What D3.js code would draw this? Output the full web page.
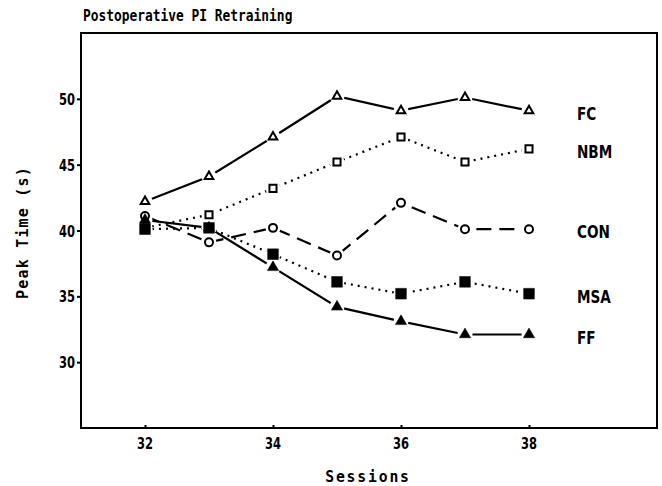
<!DOCTYPE html>
<html>
<head>
<meta charset="utf-8">
<script src="https://cdn.jsdelivr.net/npm/d3@7"></script>
<style>
body { margin: 0; background: #fff; }
text { fill: #000; }
</style>
</head>
<body>
<div id="chart"></div>
<script>
// values
const sessions = [32, 33, 34, 35, 36, 37, 38];
const fcData  = [42.2, 44.1, 47.1, 50.2, 49.1, 50.1, 49.1];
const nbmData = [40.2, 41.2, 43.2, 45.2, 47.1, 45.2, 46.2];
const conData = [41.1, 39.1, 40.2, 38.1, 42.1, 40.1, 40.1];
const msaData = [40.1, 40.2, 38.2, 36.1, 35.2, 36.1, 35.2];
const ffData  = [40.8, 40.2, 37.2, 34.2, 33.1, 32.1, 32.1];
const xTicks = [32, 34, 36, 38];
const yTicks = [30, 35, 40, 45, 50];

const groups = [
  {name: "FC",  values: fcData,  shape: d3.symbolTriangle, size: 32, filled: false, dash: null},
  {name: "NBM", values: nbmData, shape: d3.symbolSquare,   size: 50, filled: false, dash: "2,5"},
  {name: "CON", values: conData, shape: d3.symbolCircle,   size: 50, filled: false, dash: "15,8"},
  {name: "MSA", values: msaData, shape: d3.symbolSquare,   size: 115, filled: true, dash: "2,5"},
  {name: "FF",  values: ffData,  shape: d3.symbolTriangle, size: 55, filled: true,  dash: null}
];

const width = 662, height = 486;
const margin = {top: 33, right: 5, bottom: 58, left: 81};

const svg = d3.select("#chart")
  .append("svg")
  .attr("width", width)
  .attr("height", height);

const x = d3.scaleLinear().domain([31, 40]).range([margin.left, width - margin.right]);
const y = d3.scaleLinear().domain([25, 55]).range([height - margin.bottom, margin.top]);

const mono = "'DejaVu Sans Mono', monospace";
const sans = "'DejaVu Sans', sans-serif";

// squeezed text, the old plotter font is tall and narrow
function label(px, py, str, opts) {
  return svg.append("text")
    .attr("transform", `translate(${px},${py}) rotate(${opts.rot || 0}) scale(${opts.sx},1)`)
    .attr("text-anchor", opts.anchor || "start")
    .style("font-family", opts.font)
    .style("font-weight", "bold")
    .style("font-size", opts.size + "px")
    .style("letter-spacing", (opts.ls || 0) + "px")
    .text(str);
}

// frame
svg.append("rect")
  .attr("x", margin.left).attr("y", margin.top)
  .attr("width", width - margin.left - margin.right)
  .attr("height", height - margin.top - margin.bottom)
  .attr("fill", "none").attr("stroke", "#000").attr("stroke-width", 2);

// axes
const xAxis = svg.append("g")
  .attr("transform", `translate(0,${height - margin.bottom})`)
  .call(d3.axisTop(x).tickValues(xTicks).tickSize(3).tickFormat(""));
xAxis.select(".domain").remove();
xAxis.selectAll("line").attr("stroke-width", 2);

const yAxis = svg.append("g")
  .attr("transform", `translate(${margin.left},0)`)
  .call(d3.axisLeft(y).tickValues(yTicks).tickSize(4).tickFormat(""));
yAxis.select(".domain").remove();
yAxis.selectAll("line").attr("stroke-width", 2);

xTicks.forEach(t => label(x(t), height - margin.bottom + 21, t, {font: sans, size: 16, sx: 0.72, anchor: "middle"}));
yTicks.forEach(t => label(margin.left - 6, y(t) + 6, t, {font: sans, size: 16, sx: 0.72, anchor: "end"}));

// titles
label(83, 21, "Postoperative PI Retraining", {font: mono, size: 15, sx: 0.86});
label(28, (margin.top + height - margin.bottom) / 2 + 2, "Peak Time (s)",
  {font: mono, size: 15, sx: 1, rot: -90, anchor: "middle", ls: 1.2});
label(368, 482, "Sessions", {font: mono, size: 16, sx: 0.92, anchor: "middle", ls: 2});

// lines
const line = d3.line()
  .x((d, i) => x(sessions[i]))
  .y(d => y(d));

svg.selectAll(".series")
  .data(groups)
  .enter()
  .append("path")
  .attr("class", "series")
  .attr("d", d => line(d.values))
  .attr("fill", "none")
  .attr("stroke", "#000")
  .attr("stroke-width", 2.2)
  .attr("stroke-dasharray", d => d.dash);

// white gaps round the markers, then the markers
groups.forEach(g => {
  svg.selectAll(null)
    .data(g.values)
    .enter()
    .append("circle")
    .attr("cx", (d, i) => x(sessions[i]))
    .attr("cy", d => y(d))
    .attr("r", 7.5)
    .attr("fill", "#fff");
});

groups.forEach(g => {
  svg.selectAll(null)
    .data(g.values)
    .enter()
    .append("path")
    .attr("transform", (d, i) => `translate(${x(sessions[i])},${y(d)})`)
    .attr("d", d3.symbol().type(g.shape).size(g.size))
    .attr("fill", g.filled ? "#000" : "#fff")
    .attr("stroke", "#000")
    .attr("stroke-width", g.filled ? 0.5 : 2);
});

// series labels
groups.forEach(g => {
  label(577, y(g.values[g.values.length - 1]) + 9, g.name, {font: sans, size: 17, sx: 0.8});
});
</script>
</body>
</html>
